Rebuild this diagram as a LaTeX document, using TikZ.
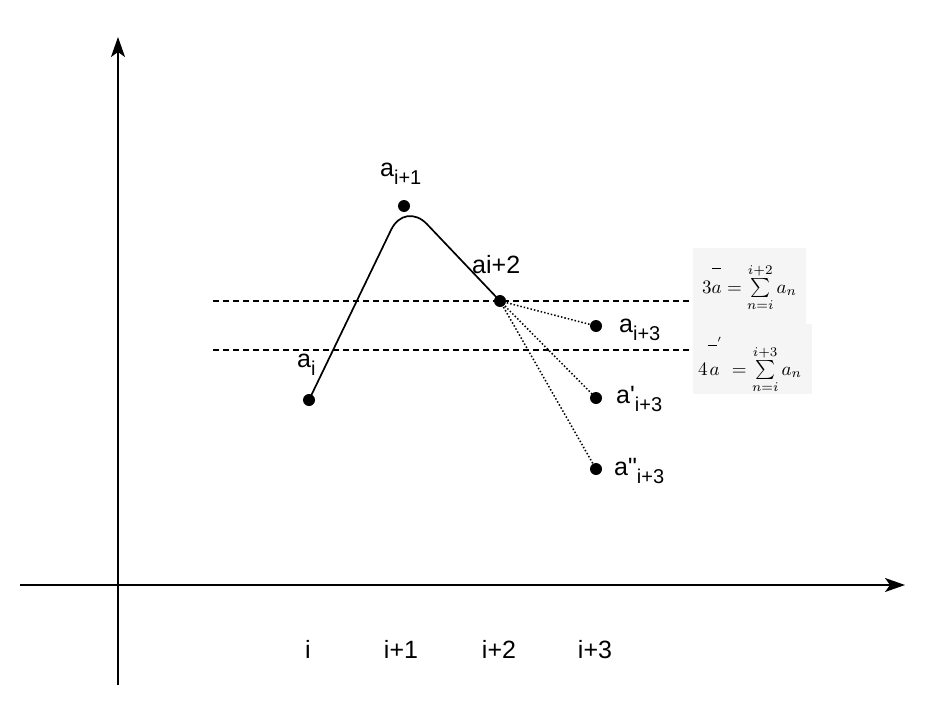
\documentclass[tikz,border=0pt]{standalone}
\usepackage{amsmath}
\usepackage{graphicx}
\usepackage{fontspec}
\setmainfont{Liberation Sans}
\usetikzlibrary{arrows.meta}
\newcommand{\lsub}[1]{\raisebox{-0.32em}{\fontsize{20}{24}\selectfont #1}}
\begin{document}
\begin{tikzpicture}[x=1pt,y=-1pt,
  dot/.style={circle,fill=black,inner sep=0pt,minimum size=12pt},
  lbl/.style={anchor=base west,inner sep=0pt,font=\fontsize{25}{30}\selectfont},
  axlbl/.style={anchor=base,inner sep=0pt,font=\fontsize{25}{30}\selectfont},
  axis/.style={line width=1.5pt,-{Stealth[length=20pt,width=14pt,inset=5pt]}},
  guide/.style={line width=1.3pt,dash pattern=on 6pt off 4pt},
  branch/.style={line width=1.5pt,dash pattern=on 1.5pt off 2pt},
  curve/.style={line width=1.7pt,rounded corners=32pt},
  fbox/.style={fill=black!4,draw=none},
  fml/.style={anchor=base west,inner sep=0pt}]
\useasboundingbox (0,0) rectangle (932,720);
\fill[white] (0,0) rectangle (932,720);
% axes
\coordinate (yb) at (118,685);
\coordinate (yt) at (118,37);
\coordinate (xl) at (20,585);
\coordinate (xr) at (905,585);
\draw[axis] (yb) -- (yt);
\draw[axis] (xl) -- (xr);
% dashed guides
\coordinate (g1l) at (213,301);
\coordinate (g1r) at (700,301);
\coordinate (g2l) at (213,350);
\coordinate (g2r) at (700,350);
\draw[guide] (g1l) -- (g1r);
\draw[guide] (g2l) -- (g2r);
% formula boxes
\fill[fbox] (693,248) rectangle (806,324);
\fill[fbox] (693,324) rectangle (812,394);
\node[fml] (f1) at (702,293) {\scalebox{1.9}{$3\overset{\rule[6.5pt]{5pt}{0.45pt}}{a}=\sum\limits_{n=i}^{i+2}a_n$}};
\node[fml] (f2) at (698,375) {\scalebox{1.9}{$4\overset{\rule[9pt]{5pt}{0.45pt}\raisebox{11pt}{$\scriptscriptstyle\prime$}}{a}\;=\sum\limits_{n=i}^{i+3}a_n$}};
% points
\node[dot] (p1) at (309,400) {};
\node[dot] (p2) at (404,206) {};
\node[dot] (p3) at (500,301) {};
\node[dot] (p4) at (596,326) {};
\node[dot] (p5) at (596,398) {};
\node[dot] (p6) at (596,469) {};
\coordinate (pk) at (405,201);
\draw[curve] (p1.center) -- (pk) -- (p3.center);
\draw[branch] (p3.center) -- (p4.center);
\draw[branch] (p3.center) -- (p5.center);
\draw[branch] (p3.center) -- (p6.center);
% labels
\node[lbl] (l1) at (297,367) {a\lsub{i}};
\node[lbl] (l2) at (380,176) {a\lsub{i+1}};
\node[lbl] (l3) at (472,273) {ai+2};
\node[lbl] (l4) at (619,332) {a\lsub{i+3}};
\node[lbl] (l5) at (616,403) {a\textquotesingle\lsub{i+3}};
\node[lbl] (l6) at (614,475) {a\textquotedbl\lsub{i+3}};
% axis labels
\node[axlbl] (t0) at (308,658) {i};
\node[axlbl] (t1) at (401,658) {i+1};
\node[axlbl] (t2) at (499,658) {i+2};
\node[axlbl] (t3) at (595,658) {i+3};
\end{tikzpicture}
\end{document}
